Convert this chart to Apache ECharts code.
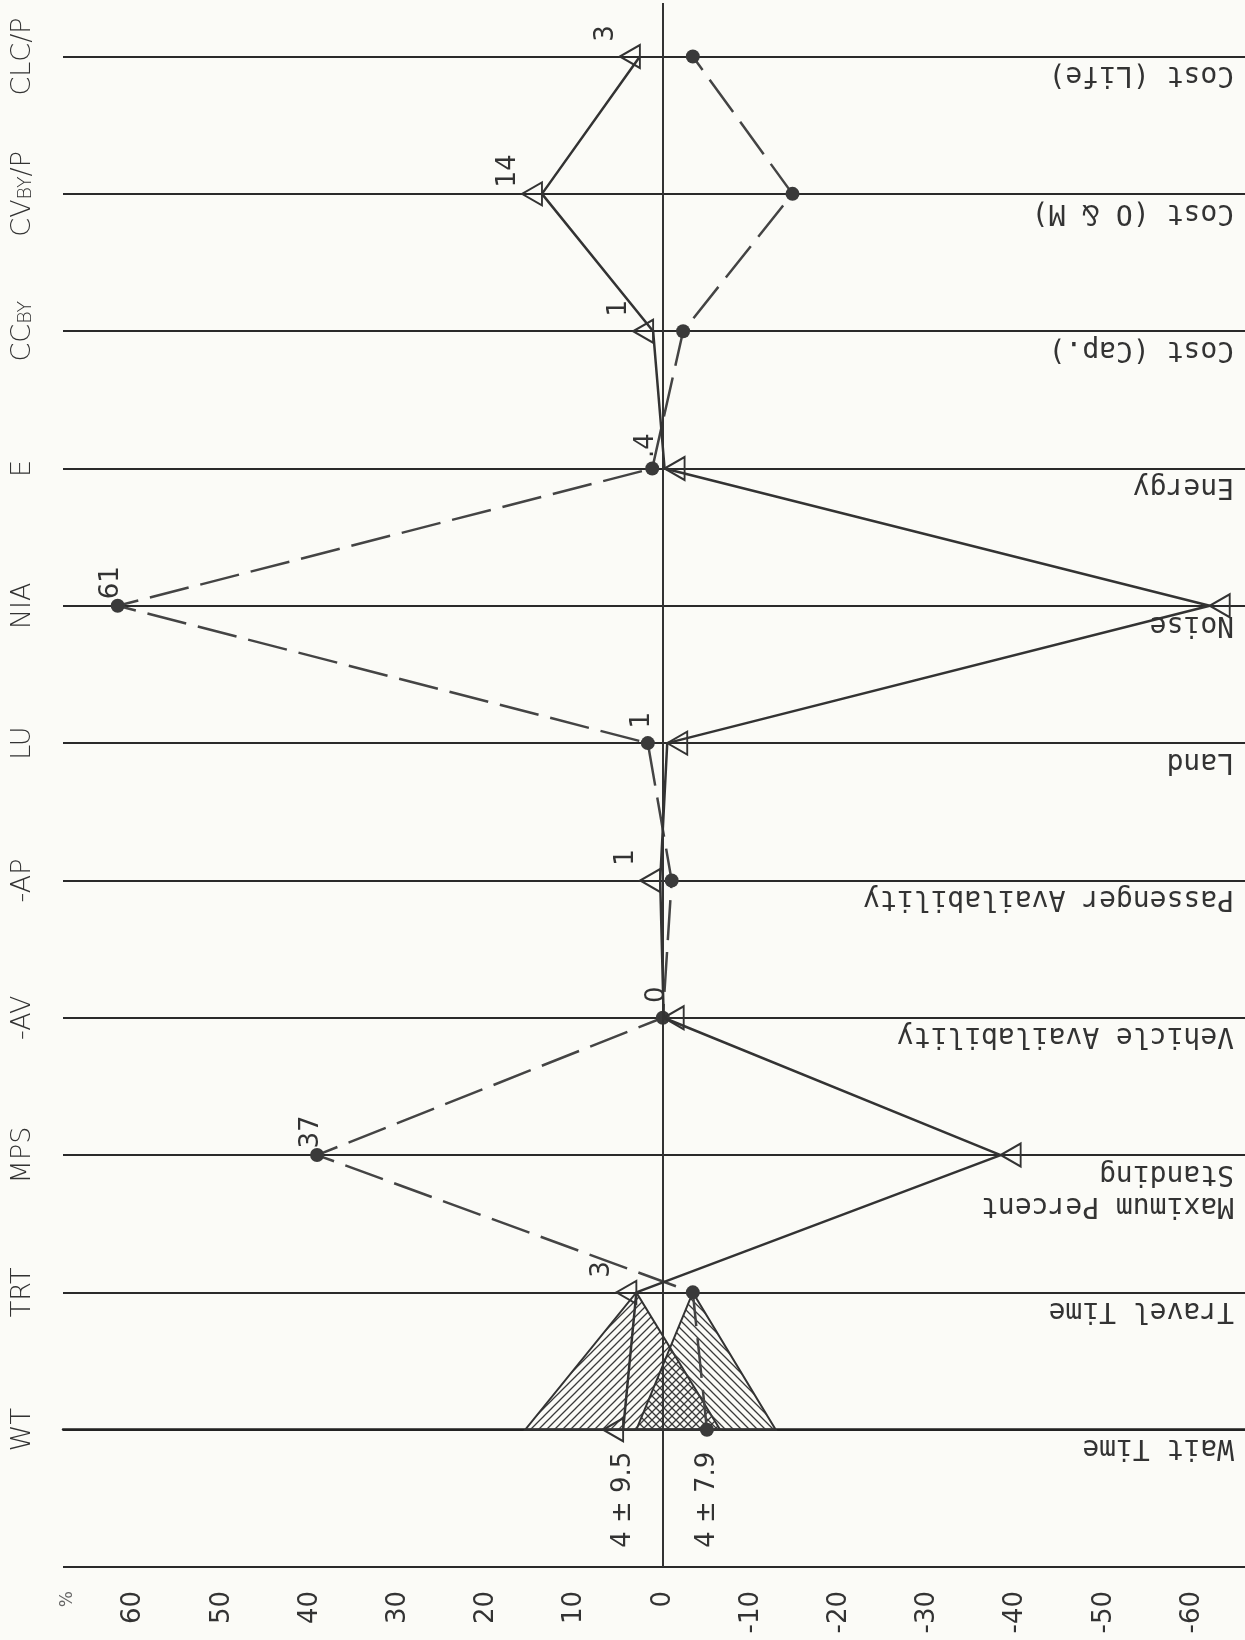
<!DOCTYPE html>
<html>
<head>
<meta charset="utf-8">
<script src="https://cdn.jsdelivr.net/npm/echarts@6/dist/echarts.min.js"></script>
<style>
  html, body { margin: 0; padding: 0; background: #fbfbf7; }
  #main { width: 1245px; height: 1640px; }
</style>
</head>
<body>
<div id="main"></div>
<script>
// categories run bottom (WT) to top (CLC/P)
const codes = ['WT', 'TRT', 'MPS', '-AV', '-AP', 'LU', 'NIA', 'E', 'CC{sub|BY}', 'CV{sub|BY}/P', 'CLC/P']
const names = ['Wait Time', 'Travel Time', 'Maximum Percent\nStanding', 'Vehicle Availability',
  'Passenger Availability', 'Land', 'Noise', 'Energy', 'Cost (Cap.)', 'Cost (O & M)', 'Cost (Life)']
// dashed line, filled dots
const dotValues = [-5.0, -3.4, 39.2, 0, -1.0, 1.7, 61.8, 1.2, -2.3, -14.7, -3.4]
// solid line, open triangles
const triValues = [4.5, 3.0, -38.3, -0.1, 0.3, -0.5, -62.0, -0.2, 1.1, 13.7, 2.6]
const marks = ['', '3', '37', '0', '1', '1', '61', '.4', '1', '14', '3']
const ticks = [60, 50, 40, 30, 20, 10, 0, -10, -20, -30, -40, -50, -60]
// hatched spread at WT for each line
const triBand = [15.6, -6.5]
const dotBand = [3.0, -12.8]
const spreadText = ['4 ± 9.5', '4 ± 7.9']

const ink = '#333'
const sans = 'DejaVu Sans'
const mono = 'DejaVu Sans Mono'

function hatch (dir) {
  let c = document.createElement('canvas')
  c.width = 8
  c.height = 8
  let g = c.getContext('2d')
  g.strokeStyle = '#3a3a3a'
  g.lineWidth = 1.3
  g.beginPath()
  if (dir > 0) {
    g.moveTo(0, 8); g.lineTo(8, 0)
    g.moveTo(-4, 4); g.lineTo(4, -4)
    g.moveTo(4, 12); g.lineTo(12, 4)
  } else {
    g.moveTo(0, 0); g.lineTo(8, 8)
    g.moveTo(-4, 4); g.lineTo(4, 12)
    g.moveTo(4, -4); g.lineTo(12, 4)
  }
  g.stroke()
  return { image: c, repeat: 'repeat' }
}
const hatches = [hatch(1), hatch(-1)]

let chart = echarts.init(document.getElementById('main'))

let option = {
  animation: false,
  backgroundColor: '#fbfbf7',
  grid: { left: 63, right: 0, top: 0, bottom: 73 },
  xAxis: {
    type: 'value',
    inverse: true,
    min: -66,
    max: 68,
    splitLine: { show: false },
    axisLine: { lineStyle: { color: '#222', width: 2.5 } },
    axisTick: { show: false },
    axisLabel: {
      customValues: [67.5].concat(ticks),
      rotate: 90,
      margin: 24,
      color: ink,
      fontFamily: sans,
      fontSize: 26,
      formatter: v => v === 67.5 ? '{pct|%}' : String(v),
      rich: { pct: { fontSize: 17, fontFamily: sans, color: '#666' } }
    }
  },
  yAxis: {
    type: 'value',
    min: -1,
    max: 10.39,
    interval: 1,
    axisLine: { show: false },
    axisTick: { show: false },
    splitLine: { showMaxLine: false, lineStyle: { color: '#2a2a2a', width: 2 } },
    axisLabel: {
      rotate: 90,
      margin: 27,
      color: ink,
      fontFamily: sans,
      fontWeight: 200,
      fontSize: 27,
      formatter: v => v >= 0 && v < codes.length ? codes[v] : '',
      rich: { sub: { fontSize: 19, fontFamily: sans, fontWeight: 200, color: ink, verticalAlign: 'bottom' } }
    }
  },
  series: [
    {
      type: 'custom',
      z: 1,
      silent: true,
      renderItem: (params, api) => {
        let a = api.coord([api.value(0), 0])
        let b = api.coord([api.value(1), 0])
        let t = api.coord([api.value(2), 1])
        return {
          type: 'polygon',
          shape: { points: [a, b, t] },
          style: { fill: hatches[params.dataIndex], stroke: ink, lineWidth: 2 }
        }
      },
      data: [[triBand[0], triBand[1], triValues[1]], [dotBand[0], dotBand[1], dotValues[1]]]
    },
    {
      type: 'line',
      z: 3,
      data: dotValues.map((v, i) => [v, i]),
      symbol: 'circle',
      symbolSize: 14,
      itemStyle: { color: '#3a3a3a' },
      lineStyle: { color: '#444', width: 2.5, type: [40, 12] }
    },
    {
      type: 'line',
      z: 4,
      data: triValues.map((v, i) => ({ value: [v, i], symbolOffset: [v >= 0 ? -10 : 10, 0] })),
      symbol: 'triangle',
      symbolRotate: 90,
      symbolSize: [23, 20],
      itemStyle: { color: 'rgba(0,0,0,0)', borderColor: ink, borderWidth: 2 },
      lineStyle: { color: ink, width: 2.5 },
      markLine: {
        silent: true,
        symbol: 'none',
        label: { show: false },
        lineStyle: { color: ink, width: 2, type: 'solid' },
        data: [{ xAxis: 0 }]
      }
    },
    {
      // numbers over each line
      type: 'custom',
      z: 5,
      silent: true,
      renderItem: (params, api) => {
        let i = params.dataIndex
        let triLeft = triValues[i] >= dotValues[i]
        let p = api.coord([Math.max(triValues[i], dotValues[i]), i])
        return {
          type: 'text',
          x: p[0] + (triLeft ? -34 : -6),
          y: p[1] - 23,
          rotation: Math.PI / 2,
          style: { text: marks[i], fill: ink, fontFamily: sans, fontSize: 26, align: 'center', verticalAlign: 'middle' }
        }
      },
      data: marks.map((m, i) => [i])
    },
    {
      // spread labels under WT
      type: 'custom',
      z: 5,
      silent: true,
      renderItem: (params, api) => {
        let v = params.dataIndex === 0 ? triValues[0] : dotValues[0]
        let p = api.coord([v, 0])
        return {
          type: 'text',
          x: p[0],
          y: p[1] + 70,
          rotation: Math.PI / 2,
          style: { text: spreadText[params.dataIndex], fill: ink, fontFamily: sans, fontSize: 26, align: 'center', verticalAlign: 'middle' }
        }
      },
      data: [[0], [1]]
    },
    {
      // upside-down names on the right
      type: 'custom',
      z: 5,
      silent: true,
      renderItem: (params, api) => {
        let y = api.coord([0, params.dataIndex])[1]
        return {
          type: 'text',
          x: params.coordSys.x + params.coordSys.width - 11,
          y: y + 2,
          rotation: Math.PI,
          style: { text: names[params.dataIndex], fill: ink, fontFamily: mono, fontSize: 28, lineHeight: 32, align: 'left', verticalAlign: 'bottom' }
        }
      },
      data: names.map((n, i) => [i])
    }
  ]
}

chart.setOption(option)
</script>
</body>
</html>
